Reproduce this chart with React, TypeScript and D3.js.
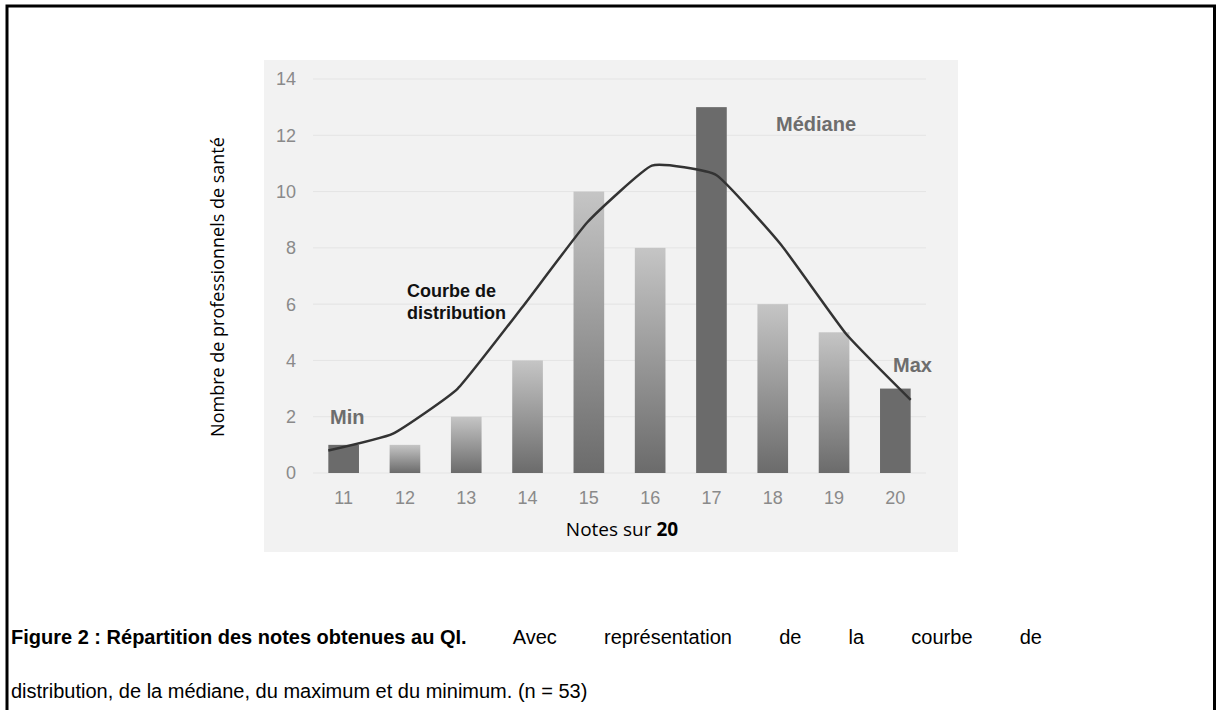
import React, { useLayoutEffect, useRef, useState } from "react";
import * as d3 from "d3";

const categories = ["11", "12", "13", "14", "15", "16", "17", "18", "19", "20"];
const counts = [1, 1, 2, 4, 10, 8, 13, 6, 5, 3];
const highlighted = ["11", "17", "20"];
const curveValues = [0.8, 1.4, 3.0, 5.9, 8.9, 10.92, 10.58, 8.1, 4.95, 2.6];
const yTicks = [0, 2, 4, 6, 8, 10, 12, 14];

const captionBold = "Figure 2 : Répartition des notes obtenues au QI.";
const captionLine1 = " Avec représentation de la courbe de";
const captionLine2 = "distribution, de la médiane, du maximum et du minimum. (n = 53)";

const W = 1217;
const H = 710;
const plot = { left: 313, right: 926, top: 79, bottom: 473 };
const captionRight = 1042;

export default function App() {
  const textRef = useRef<SVGTextElement>(null);
  const [wordSpacing, setWordSpacing] = useState(0);

  useLayoutEffect(() => {
    if (!textRef.current || wordSpacing !== 0) return;
    const bb = textRef.current.getBBox();
    const end = bb.x + bb.width;
    const spaces = captionLine1.split(" ").length - 1;
    const extra = (captionRight - end) / spaces;
    if (extra > 0) setWordSpacing(extra);
  }, [wordSpacing]);

  const x = d3.scaleBand<string>().domain(categories).range([plot.left, plot.right]).paddingInner(0.5).paddingOuter(0.25);
  const y = d3.scaleLinear().domain([0, 14]).range([plot.bottom, plot.top]);
  const xs = d3
    .scaleLinear()
    .domain([0, categories.length - 1])
    .range([x(categories[0])!, x(categories[categories.length - 1])! + x.bandwidth()]);
  const line = d3
    .line<number>()
    .x((_, i) => xs(i))
    .y((d) => y(d))
    .curve(d3.curveCardinal.tension(0.6));

  const tickFont = "Arial, 'Liberation Sans', Helvetica, sans-serif";
  const cx = (c: string) => x(c)! + x.bandwidth() / 2;

  return (
    <svg width={W} height={H} style={{ position: "absolute", left: 0, top: 0, background: "#fff" }}>
      <defs>
        <linearGradient id="barGrad" x1="0" y1="0" x2="0" y2="1">
          <stop offset="0%" stopColor="#c5c5c5" />
          <stop offset="100%" stopColor="#6b6b6b" />
        </linearGradient>
      </defs>
      <rect x={7} y={6} width={1207.5} height={720} fill="none" stroke="#000" strokeWidth={3} />
      <rect x={264} y={60} width={694} height={492} fill="#f2f2f2" />
      {yTicks.map((t) => (
        <g key={t}>
          <line x1={plot.left} x2={plot.right} y1={y(t)} y2={y(t)} stroke="#e4e4e4" strokeWidth={1} />
          <text x={296} y={y(t)} dy="0.36em" textAnchor="end" fontFamily={tickFont} fontSize={18} fill="#8a8a8a">
            {t}
          </text>
        </g>
      ))}
      {categories.map((c, i) => (
        <rect
          key={c}
          x={x(c)}
          y={y(counts[i])}
          width={x.bandwidth()}
          height={y(0) - y(counts[i])}
          fill={highlighted.includes(c) ? "#6b6b6b" : "url(#barGrad)"}
        />
      ))}
      {categories.map((c) => (
        <text key={c} x={cx(c)} y={504} textAnchor="middle" fontFamily={tickFont} fontSize={18} fill="#8a8a8a">
          {c}
        </text>
      ))}
      <path d={line(curveValues) || ""} fill="none" stroke="#333" strokeWidth={2.5} strokeLinejoin="round" />
      <text x={330} y={424} fontFamily={tickFont} fontWeight="bold" fontSize={20} fill="#6d6d6d">
        Min
      </text>
      <text x={776} y={131} fontFamily={tickFont} fontWeight="bold" fontSize={20} fill="#6d6d6d">
        Médiane
      </text>
      <text x={893} y={372} fontFamily={tickFont} fontWeight="bold" fontSize={20} fill="#6d6d6d">
        Max
      </text>
      <text x={407} y={297} fontFamily={tickFont} fontWeight="bold" fontSize={18} fill="#111">
        Courbe de
      </text>
      <text x={407} y={319} fontFamily={tickFont} fontWeight="bold" fontSize={18} fill="#111">
        distribution
      </text>
      <text x={622} y={536} textAnchor="middle" fontFamily="'Open Sans', sans-serif" fontSize={19} fill="#000">
        Notes sur <tspan fontWeight="bold">20</tspan>
      </text>
      <text
        transform={`translate(224, 287) rotate(-90)`}
        textAnchor="middle"
        fontFamily="'Open Sans', sans-serif"
        fontSize={18}
        fill="#000"
      >
        Nombre de professionnels de santé
      </text>
      <text ref={textRef} x={11} y={644} fontFamily={tickFont} fontSize={20} fill="#000">
        <tspan fontWeight="bold">{captionBold}</tspan>
        <tspan style={{ wordSpacing: `${wordSpacing}px` }}>{captionLine1}</tspan>
      </text>
      <text x={11} y={698} fontFamily={tickFont} fontSize={20} fill="#000">
        {captionLine2}
      </text>
    </svg>
  );
}
